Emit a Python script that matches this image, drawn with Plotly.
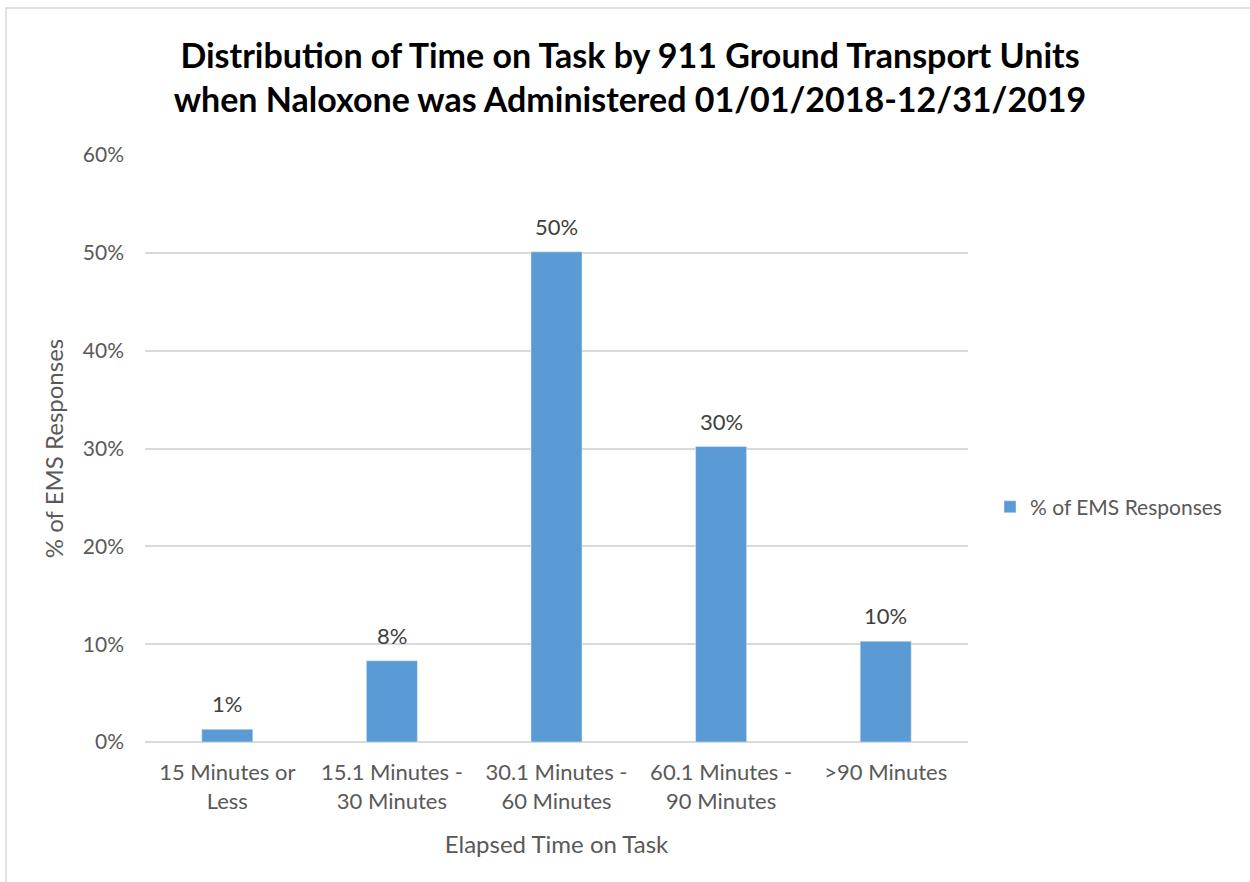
import plotly.graph_objects as go

categories = ["15 Minutes or<br>Less", "15.1 Minutes -<br>30 Minutes", "30.1 Minutes -<br>60 Minutes",
              "60.1 Minutes -<br>90 Minutes", ">90 Minutes"]
values = [1.3, 8.3, 50.1, 30.2, 10.3]
labels = ["1%", "8%", "50%", "30%", "10%"]
series_name = "% of EMS Responses"
title_text = "Distribution of Time on Task by 911 Ground Transport Units<br>when Naloxone was Administered 01/01/2018-12/31/2019"

FONT = "Lato"
W, H = 1250, 882
L, R, T, B = 145, 282, 155, 140
TXT = "#595959"

fig = go.Figure()
fig.add_trace(go.Bar(
    x=categories, y=values, name=series_name,
    marker=dict(color="#5b9bd5"),
))
for c, v, lab in zip(categories, values, labels):
    fig.add_annotation(x=c, y=v, text=lab, showarrow=False, yanchor="bottom", yshift=10,
                       font=dict(family=FONT, size=22, color="#404040"))

fig.update_layout(
    width=W, height=H,
    margin=dict(l=L, r=R, t=T, b=B),
    paper_bgcolor="white", plot_bgcolor="white",
    bargap=0.69,
    showlegend=True,
    title=dict(text="<b>" + title_text + "</b>", x=630 / W, xanchor="center",
               y=1 - 68 / H, yanchor="middle",
               font=dict(family=FONT, size=34, color="black")),
    legend=dict(x=(990 - L) / (W - L - R), y=(741.7 - 507) / 586.7, xanchor="left", yanchor="middle",
                font=dict(family=FONT, size=21, color=TXT), itemwidth=30),
    font=dict(family=FONT, color=TXT),
)
fig.update_yaxes(range=[0, 60], dtick=10, ticksuffix="%", showgrid=True, gridcolor="#d9d9d9",
                 gridwidth=1.5, zeroline=True, zerolinecolor="#d9d9d9", zerolinewidth=1.5,
                 tickfont=dict(family=FONT, size=21, color=TXT), ticklabelstandoff=20,
                 title=dict(text="% of EMS Responses", font=dict(family=FONT, size=24, color=TXT),
                            standoff=12))
fig.update_xaxes(tickfont=dict(family=FONT, size=22, color=TXT), showline=False, ticklabelstandoff=15,
                 title=dict(text="Elapsed Time on Task", font=dict(family=FONT, size=24, color=TXT),
                            standoff=23))

# chart border (left and top edges visible)
fig.add_shape(type="rect", xref="paper", yref="paper",
              x0=(6 - L) / (W - L - R), x1=(W + 20 - L) / (W - L - R),
              y0=-(B + 20) / (H - T - B), y1=1 + (T - 8) / (H - T - B),
              line=dict(color="#d9d9d9", width=1.5), layer="below")

fig.write_html("out.html")
